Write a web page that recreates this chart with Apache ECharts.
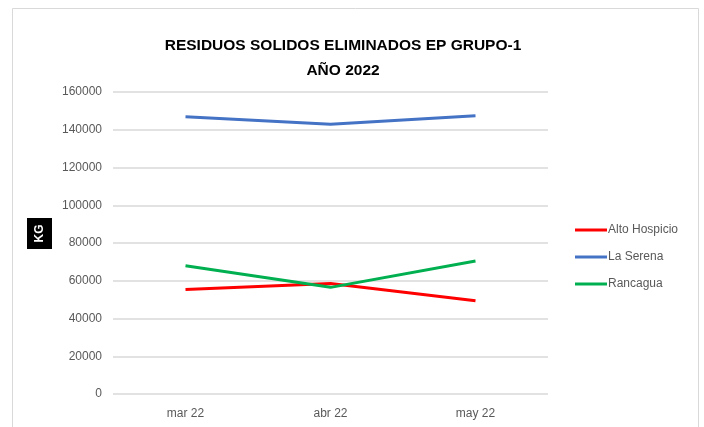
<!DOCTYPE html>
<html><head><meta charset="utf-8">
<script src="https://cdn.jsdelivr.net/npm/echarts@6/dist/echarts.min.js"></script>
<style>html,body{margin:0;padding:0;background:#fff}#c{width:704px;height:427px}</style>
</head><body><div id="c"></div>
<script>
const categories = ['mar 22', 'abr 22', 'may 22'];
const altoHospicio = [55300, 58600, 49400];
const laSerena = [146900, 142900, 147400];
const rancagua = [68000, 56500, 70500];
const seriesNames = ['Alto Hospicio', 'La Serena', 'Rancagua'];
const colors = ['#ff0000', '#4472c4', '#00b050'];

const chart = echarts.init(document.getElementById('c'));
const font = "'Liberation Sans Narrow', 'Liberation Sans', Arial, sans-serif";
chart.setOption({
  animation: false,
  backgroundColor: '#fff',
  title: {
    text: 'RESIDUOS SOLIDOS ELIMINADOS EP GRUPO-1\nAÑO 2022',
    left: 338, top: 28, textAlign: 'center',
    textStyle: { fontFamily: font, fontWeight: 'bold', fontSize: 15.5, color: '#000', lineHeight: 25 }
  },
  graphic: [
    { type: 'rect', shape: { x: 12.5, y: 8.5, width: 686, height: 430 }, style: { fill: 'none', stroke: '#d9d9d9', lineWidth: 1 }, silent: true },
    { type: 'rect', shape: { x: 27, y: 218, width: 25, height: 31 }, style: { fill: '#000' } },
    { type: 'text', x: 40, y: 233.5, rotation: Math.PI / 2, style: { text: 'KG', fill: '#fff', font: "bold 12px 'Liberation Sans', Arial", textAlign: 'center', textVerticalAlign: 'middle' } }
  ],
  legend: {
    orient: 'vertical', left: 570, top: 219, itemGap: 15,
    itemWidth: 32, itemHeight: 3, icon: 'rect',
    textStyle: { fontFamily: font, fontSize: 12, color: '#595959', padding: [0, 0, 0, -4] },
    data: seriesNames
  },
  grid: { left: 113, right: 156, top: 92, bottom: 33, containLabel: false },
  xAxis: {
    type: 'category', data: categories, boundaryGap: true,
    axisLine: { show: false }, axisTick: { show: false },
    axisLabel: { color: '#595959', fontFamily: font, fontSize: 12, margin: 14 }
  },
  yAxis: {
    type: 'value', min: 0, max: 160000, interval: 20000,
    axisLine: { show: false }, axisTick: { show: false },
    axisLabel: { color: '#595959', fontFamily: font, fontSize: 12, margin: 11, formatter: v => String(v) },
    splitLine: { lineStyle: { color: '#d9d9d9', width: 1.5 } }
  },
  series: [
    { name: seriesNames[0], type: 'line', data: altoHospicio, symbol: 'none', lineStyle: { width: 3, color: colors[0] }, itemStyle: { color: colors[0] } },
    { name: seriesNames[1], type: 'line', data: laSerena, symbol: 'none', lineStyle: { width: 3, color: colors[1] }, itemStyle: { color: colors[1] } },
    { name: seriesNames[2], type: 'line', data: rancagua, symbol: 'none', lineStyle: { width: 3, color: colors[2] }, itemStyle: { color: colors[2] } }
  ]
});
</script></body></html>
